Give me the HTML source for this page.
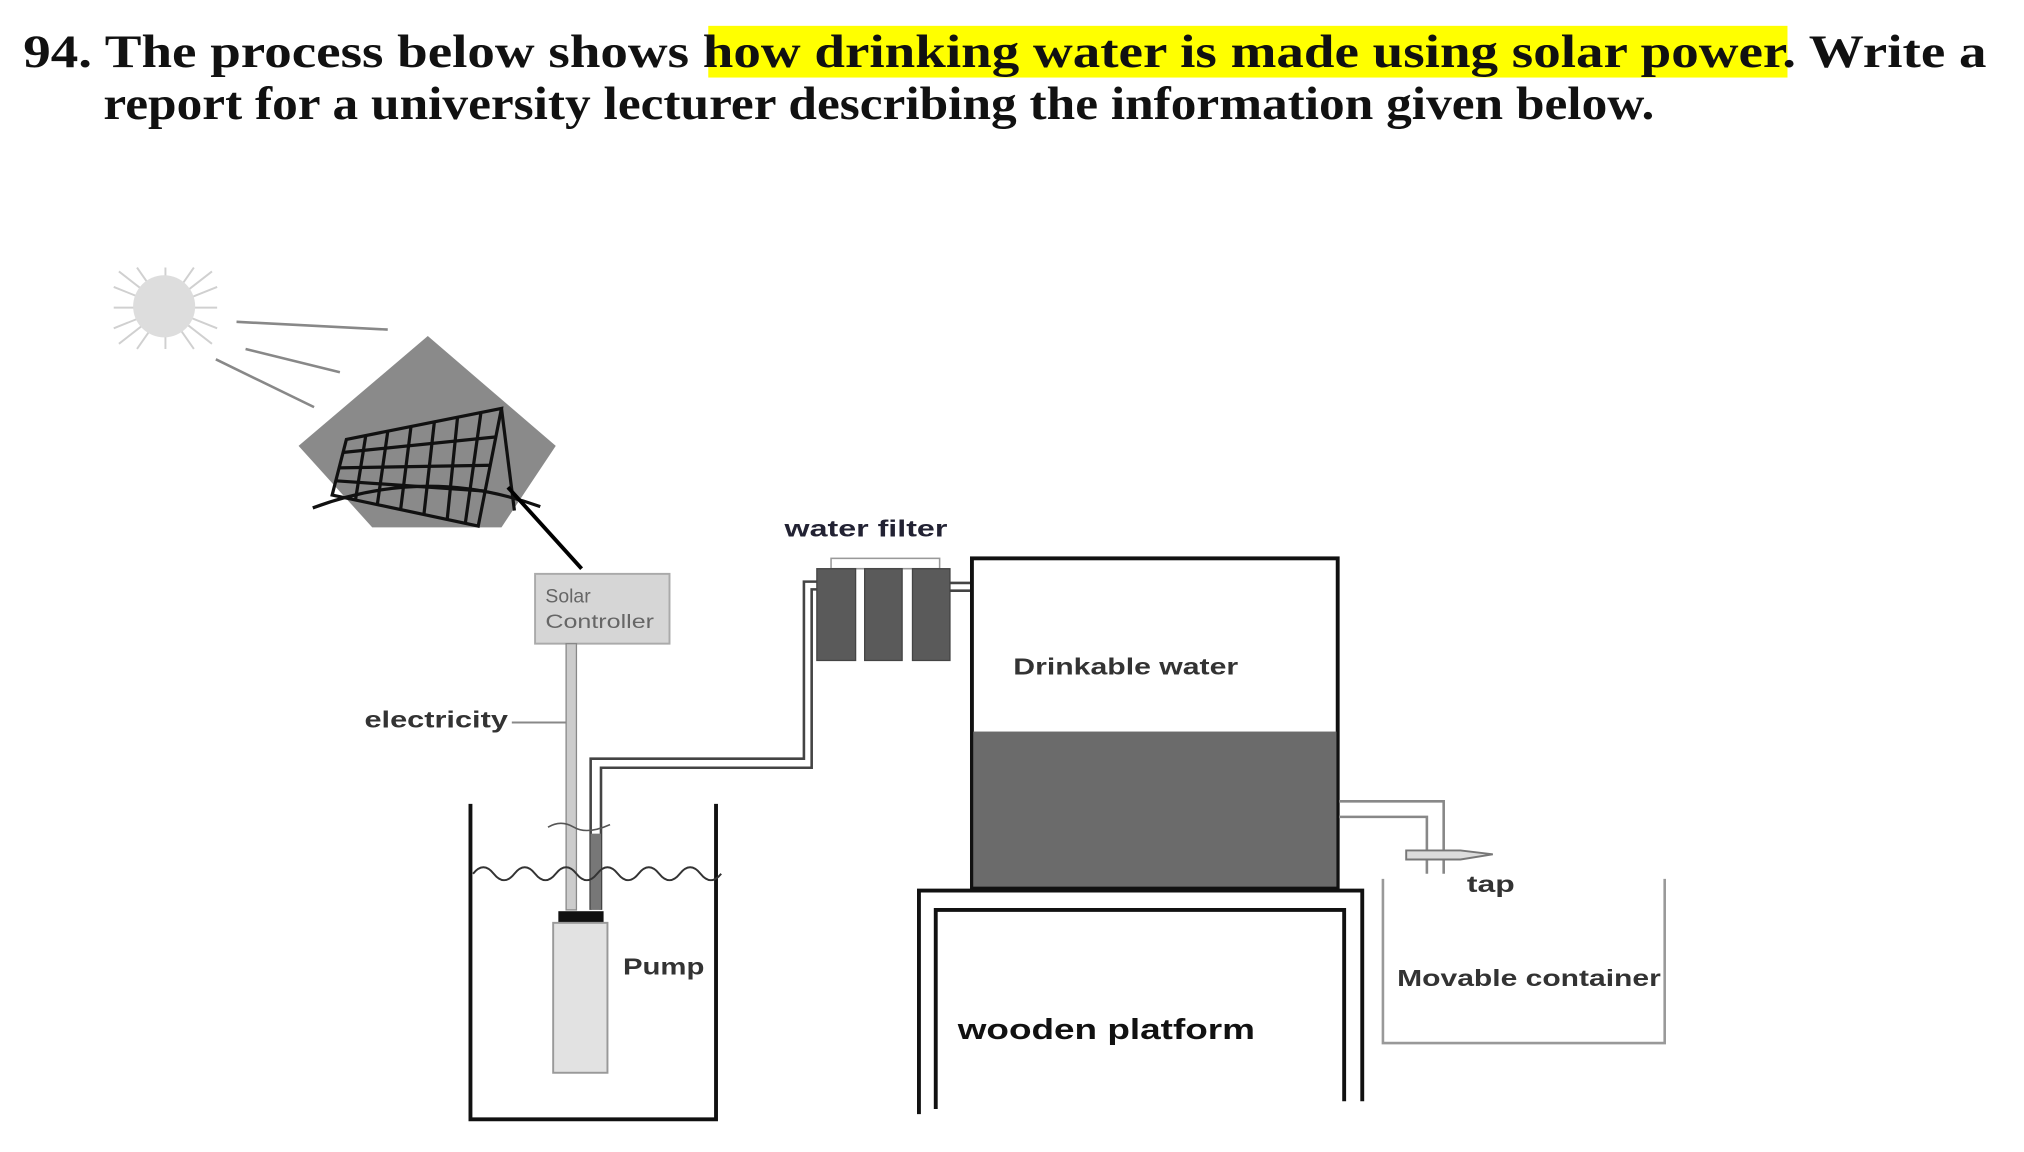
<!DOCTYPE html>
<html><head><meta charset="utf-8"><style>
html,body{margin:0;padding:0;background:#fff;}
svg{display:block;}
text{font-family:"Liberation Sans",sans-serif;}
</style></head><body>
<svg width="2024" height="1152" viewBox="0 0 1566 891.3" preserveAspectRatio="none" xmlns="http://www.w3.org/2000/svg">
<rect width="1566" height="892" fill="#fff"/>
<!-- heading -->
<rect x="548" y="20" width="835" height="40" fill="#ffff00"/>
<g font-weight="bold" font-size="36" fill="#111">
<text x="18" y="52" textLength="1519" lengthAdjust="spacingAndGlyphs" style="font-family:'Liberation Serif',serif">94. The process below shows how drinking water is made using solar power. Write a</text>
<text x="80" y="92" textLength="1200" lengthAdjust="spacingAndGlyphs" style="font-family:'Liberation Serif',serif">report for a university lecturer describing the information given below.</text>
</g>
<!-- sun -->
<g stroke="#d0d0d0" stroke-width="1.5">
<line x1="88" y1="238" x2="168" y2="238"/><line x1="128" y1="207" x2="128" y2="270"/>
<line x1="92" y1="210" x2="164" y2="266"/><line x1="164" y1="210" x2="92" y2="266"/>
<line x1="88" y1="222" x2="168" y2="254"/><line x1="168" y1="222" x2="88" y2="254"/>
<line x1="106" y1="207" x2="150" y2="270"/><line x1="150" y1="207" x2="106" y2="270"/>
</g>
<circle cx="127" cy="237" r="24" fill="#ddd"/>
<g stroke="#888" stroke-width="2">
<line x1="183" y1="249" x2="300" y2="255"/><line x1="190" y1="270" x2="263" y2="288"/><line x1="167" y1="278" x2="243" y2="315"/>
</g>
<!-- panel diamond -->
<polygon points="331,260 430,345 388,408 288,408 231,345" fill="#8a8a8a"/>
<g stroke="#111" stroke-width="2.5" fill="none">
<path d="M242,393 Q330,360 418,392"/>
<path d="M268,340 L388,316 L370,407 L257,383 Z"/>
<line x1="262" y1="362" x2="380" y2="360"/><line x1="266" y1="350" x2="384" y2="338"/><line x1="260" y1="372" x2="376" y2="380"/>
<line x1="283" y1="337" x2="275" y2="387"/><line x1="300" y1="334" x2="292" y2="390"/><line x1="318" y1="330" x2="310" y2="394"/><line x1="336" y1="327" x2="328" y2="398"/><line x1="354" y1="323" x2="346" y2="402"/><line x1="372" y1="320" x2="360" y2="405"/>
<line x1="388" y1="316" x2="398" y2="395"/>
</g>
<line x1="393" y1="377" x2="450" y2="440" stroke="#000" stroke-width="3"/>
<!-- controller -->
<rect x="414" y="444" width="104" height="54" fill="#d6d6d6" stroke="#aaa" stroke-width="1.5"/>
<text x="422" y="466" font-size="15" fill="#666">Solar</text>
<text x="422" y="486" font-size="15" fill="#666" textLength="84" lengthAdjust="spacingAndGlyphs">Controller</text>
<!-- electricity cable -->
<rect x="438" y="498" width="8" height="206" fill="#ccc" stroke="#888" stroke-width="1"/>
<text x="282" y="563" font-size="18" font-weight="bold" fill="#333" textLength="111" lengthAdjust="spacingAndGlyphs">electricity</text>
<line x1="396" y1="559" x2="438" y2="559" stroke="#888" stroke-width="1.5"/>
<!-- water pipe to filter -->
<g fill="none" stroke="#444" stroke-width="2">
<path d="M457,704 V587 H622 V450 H632"/>
<path d="M465,704 V594 H628 V456 H632"/>
</g>
<rect x="457" y="645" width="8" height="59" fill="#777"/>
<!-- well -->
<path d="M364,622 V866 H554 V622" fill="none" stroke="#111" stroke-width="3"/>
<path d="M366,676 q8,-10 16,0 t16,0 t16,0 t16,0 t16,0 t16,0 t16,0 t16,0 t16,0 t16,0 t16,0 t16,0" fill="none" stroke="#333" stroke-width="1.5"/>
<path d="M424,640 q10,-6 20,0 q10,6 28,-2" fill="none" stroke="#555" stroke-width="1.2"/>
<rect x="432" y="705" width="35" height="9" fill="#111"/>
<rect x="428" y="714" width="42" height="116" fill="#e2e2e2" stroke="#999" stroke-width="1.5"/>
<text x="482" y="754" font-size="18" font-weight="bold" fill="#333" textLength="63" lengthAdjust="spacingAndGlyphs">Pump</text>
<!-- water filter -->
<text x="607" y="415" font-size="18" font-weight="bold" fill="#223" textLength="126" lengthAdjust="spacingAndGlyphs">water filter</text>
<rect x="643" y="432" width="84" height="8" fill="none" stroke="#999" stroke-width="1.2"/>
<rect x="632" y="440" width="30" height="71" fill="#5a5a5a" stroke="#444"/>
<rect x="669" y="440" width="29" height="71" fill="#5a5a5a" stroke="#444"/>
<rect x="706" y="440" width="29" height="71" fill="#5a5a5a" stroke="#444"/>
<g stroke="#444" stroke-width="2"><line x1="735" y1="451" x2="752" y2="451"/><line x1="735" y1="457" x2="752" y2="457"/></g>
<!-- tank -->
<rect x="752" y="432" width="283" height="255" fill="#fff" stroke="#111" stroke-width="3"/>
<rect x="753" y="566" width="281" height="120" fill="#6b6b6b"/>
<text x="784" y="522" font-size="18" font-weight="bold" fill="#333" textLength="174" lengthAdjust="spacingAndGlyphs">Drinkable water</text>
<!-- tap pipes -->
<g fill="none" stroke="#888" stroke-width="2">
<path d="M1036,620 H1117 V676"/><path d="M1036,632 H1104 V676"/>
</g>
<path d="M1088,658 H1130 L1155,661 L1130,665 H1088 Z" fill="#ddd" stroke="#777" stroke-width="1.5"/>
<text x="1135" y="690" font-size="18" font-weight="bold" fill="#333" textLength="37" lengthAdjust="spacingAndGlyphs">tap</text>
<!-- movable container -->
<path d="M1070,680 V807 H1288 V680" fill="none" stroke="#999" stroke-width="2"/>
<text x="1081" y="763" font-size="18" font-weight="bold" fill="#333" textLength="204" lengthAdjust="spacingAndGlyphs">Movable container</text>
<!-- platform -->
<g fill="none" stroke="#111" stroke-width="3">
<path d="M711,862 V689 H1054 V852"/>
<path d="M724,858 V704 H1040 V852"/>
</g>
<text x="741" y="804" font-size="22" font-weight="bold" fill="#111" textLength="230" lengthAdjust="spacingAndGlyphs">wooden platform</text>
</svg>
</body></html>
